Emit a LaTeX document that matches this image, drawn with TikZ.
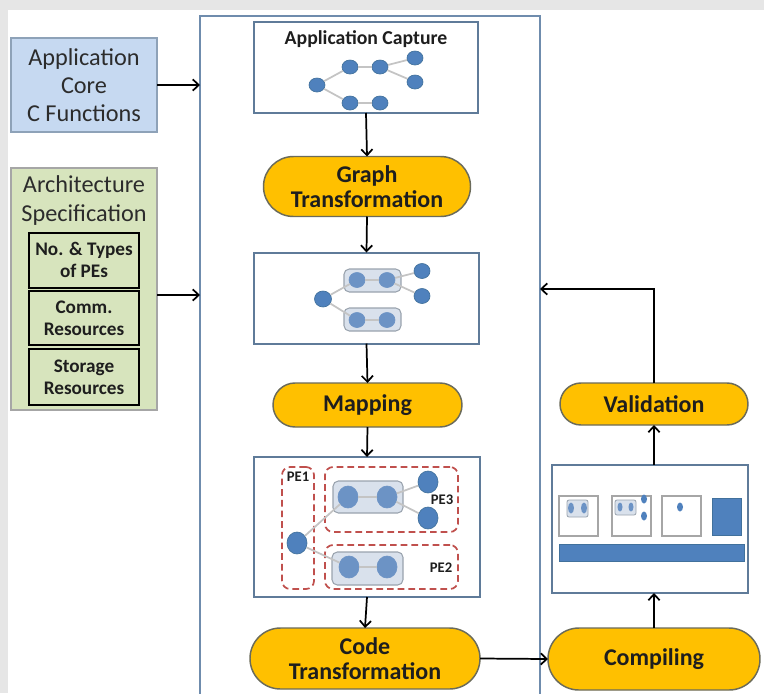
\documentclass[tikz,border=0pt]{standalone}
\usepackage{fontspec}
\setmainfont{Carlito}
\usetikzlibrary{arrows.meta,shapes.misc,shapes.geometric}

\definecolor{bggray}{HTML}{E6E6E6}
\definecolor{contblue}{HTML}{6F8CAD}
\definecolor{boxblue}{HTML}{5F7B99}
\definecolor{corefill}{HTML}{C6D9F1}
\definecolor{coreedge}{HTML}{8EA2B8}
\definecolor{archfill}{HTML}{D7E4BD}
\definecolor{archedge}{HTML}{A6A6A6}
\definecolor{pillfill}{HTML}{FFC000}
\definecolor{pilledge}{HTML}{6B6B5A}
\definecolor{txtdark}{HTML}{1E1E1E}
\definecolor{txtgray}{HTML}{2C2C2C}
\definecolor{nodeblue}{HTML}{4F81BD}
\definecolor{nodeedge}{HTML}{41719C}
\definecolor{nodelite}{HTML}{6C93C5}
\definecolor{grpfill}{HTML}{D9E1EC}
\definecolor{grpedge}{HTML}{9AA3AE}
\definecolor{edgegray}{HTML}{C4C4C4}
\definecolor{pered}{HTML}{C0504D}
\definecolor{icongray}{HTML}{A6A6A6}

\begin{document}
\begin{tikzpicture}[x=0.75pt,y=-0.75pt,
  sz/.style 2 args={minimum width=#1*0.75pt,minimum height=#2*0.75pt},
  plain/.style={rectangle,inner sep=0pt,outer sep=0pt},
  container/.style={plain,draw=contblue,line width=1.9pt},
  stagebox/.style={plain,draw=boxblue,line width=1.5pt},
  corebox/.style={plain,draw=coreedge,fill=corefill,line width=1pt,
    align=center,text=txtgray,font=\fontsize{18.2}{21}\selectfont},
  archbox/.style={plain,draw=archedge,fill=archfill,line width=1pt},
  resbox/.style={plain,draw=black,line width=1.5pt,align=center,text=txtdark,
    font=\bfseries\fontsize{14.4}{16.5}\selectfont},
  pill/.style={rounded rectangle,inner sep=0pt,outer sep=0pt,draw=pilledge,
    line width=1.1pt,fill=pillfill,align=center,text=txtdark,
    font=\bfseries\fontsize{18}{18.75}\selectfont},
  gnode/.style={ellipse,inner sep=0pt,fill=nodeblue,draw=nodeedge,line width=0.5pt},
  gnodelite/.style={gnode,fill=nodelite,draw=nodelite},
  grp/.style={plain,rounded corners=4pt,fill=grpfill,draw=grpedge,line width=0.8pt},
  gedge/.style={draw=edgegray,line width=1.3pt},
  pe/.style={plain,rounded corners=6pt,draw=pered,line width=1.3pt,
    dash pattern=on 5pt off 3pt},
  pelabel/.style={inner sep=0pt,text=txtdark,font=\bfseries\fontsize{11}{12}\selectfont},
  arr/.style={draw=black,line width=1.3pt,-{Straight Barb[length=4.5pt,width=8.5pt]}}
]
\useasboundingbox (0,0) rectangle (764,693);
\fill[bggray] (0,0) rectangle (764,693);
\fill[white] (8,10) rectangle (764,693);

% main flow container (runs past the lower edge)
\node[container,sz={340}{700}] (cont) at (370,366) {};

% inputs on the left
\node[corebox,sz={146}{94}] (core) at (84,85) {Application\\Core\\C Functions};
\node[archbox,sz={146}{242}] (arch) at (84,289) {};
\node[inner sep=0pt,align=center,text=txtgray,font=\fontsize{18.2}{21.75}\selectfont]
  (archtitle) at (84,201) {Architecture\\Specification};
\node[resbox,sz={110}{55}] (pes) at (84,260) {No. \& Types\\of PEs};
\node[resbox,sz={110}{54}] (comm) at (84,318) {Comm.\\Resources};
\node[resbox,sz={110}{56}] (stor) at (84,377) {Storage\\Resources};

\draw[arr] (core.east) -- (core.east -| cont.west);
\coordinate (archin) at (cont.west |- 0,295);
\draw[arr] (arch.east |- archin) -- (archin);

% stage 1: application capture
\node[stagebox,sz={224}{91}] (cap) at (366,67.5) {};
\node[inner sep=0pt,text=txtdark,font=\bfseries\fontsize{14.8}{16}\selectfont]
  (captitle) at (366,39) {Application Capture};
\node[gnode,sz={16}{14}] (a1) at (317,85) {};
\node[gnode,sz={16}{14}] (a2) at (350,67) {};
\node[gnode,sz={16}{14}] (a3) at (380,67) {};
\node[gnode,sz={16}{14}] (a4) at (415,58) {};
\node[gnode,sz={16}{14}] (a5) at (415,82) {};
\node[gnode,sz={16}{14}] (a6) at (350,103) {};
\node[gnode,sz={16}{14}] (a7) at (380,103) {};
\draw[gedge] (a1) -- (a2);
\draw[gedge] (a2) -- (a3);
\draw[gedge] (a3) -- (a4);
\draw[gedge] (a3) -- (a5);
\draw[gedge] (a1) -- (a6);
\draw[gedge] (a6) -- (a7);

\node[pill,sz={207}{60}] (gt) at (367,186.5) {Graph\\Transformation};

% stage 2: clustered graph
\node[stagebox,sz={225}{91}] (clus) at (366.5,298) {};
\node[grp,sz={57}{23}] (g1) at (372.5,280.5) {};
\node[grp,sz={57}{23}] (g2) at (372.5,319.5) {};
\node[gnode,sz={17}{16}] (b1) at (323,299) {};
\node[gnodelite,sz={16}{15}] (b2) at (357,280) {};
\node[gnodelite,sz={16}{15}] (b3) at (387,280) {};
\node[gnode,sz={16}{15}] (b4) at (422,271) {};
\node[gnode,sz={16}{15}] (b5) at (422,296) {};
\node[gnodelite,sz={16}{15}] (b6) at (357,320) {};
\node[gnodelite,sz={16}{15}] (b7) at (387,320) {};
\draw[gedge] (b1) -- (b2);
\draw[gedge] (b2) -- (b3);
\draw[gedge] (b3) -- (b4);
\draw[gedge] (b3) -- (b5);
\draw[gedge] (b1) -- (b6);
\draw[gedge] (b6) -- (b7);

\node[pill,sz={189}{44}] (map) at (367.5,405) {Mapping};

% stage 3: mapped graph
\node[stagebox,sz={226}{140}] (mapped) at (367,527) {};
\node[pe,sz={32}{122}] (pe1) at (298,528) {};
\node[pe,sz={133}{65}] (pe3) at (391.5,499.5) {};
\node[pe,sz={133}{44}] (pe2) at (391.5,567) {};
\node[pelabel] (pe1t) at (298,477) {PE1};
\node[pelabel] (pe3t) at (442,500) {PE3};
\node[pelabel] (pe2t) at (441,568) {PE2};
\node[grp,sz={70}{32}] (g3) at (368,497) {};
\node[grp,sz={71}{33}] (g4) at (367.5,568.5) {};
\node[gnode,sz={20}{22}] (c1) at (297,543) {};
\node[gnodelite,sz={20}{22}] (c2) at (348,497) {};
\node[gnodelite,sz={20}{22}] (c3) at (387,497) {};
\node[gnode,sz={20}{22}] (c4) at (428,482) {};
\node[gnode,sz={20}{22}] (c5) at (428,518) {};
\node[gnodelite,sz={20}{22}] (c6) at (349,567) {};
\node[gnodelite,sz={20}{22}] (c7) at (387,567) {};
\draw[gedge] (c1) -- (c2);
\draw[gedge] (c2) -- (c3);
\draw[gedge] (c3) -- (c4);
\draw[gedge] (c3) -- (c5);
\draw[gedge] (c1) -- (c6);
\draw[gedge] (c6) -- (c7);

\node[pill,sz={230}{61}] (ct) at (365,658.5) {Code\\Transformation};

% right column: compiling and validation
\node[pill,sz={212}{62}] (cmp) at (654,659) {Compiling};
\node[stagebox,sz={196}{128}] (bin) at (650,529) {};
\node[pill,sz={188}{42}] (val) at (654,404) {Validation};

% processor icons inside the compiled result
\draw[icongray,line width=1.2pt] (559,496) rectangle (598,536);
\filldraw[fill=grpfill,draw=grpedge,line width=0.6pt,rounded corners=1.5pt] (567,500) rectangle (588,517);
\fill[nodelite] (571,508) ellipse (3*0.75pt and 5.5*0.75pt);
\fill[nodelite] (584,508) ellipse (3*0.75pt and 5.5*0.75pt);
\draw[icongray,line width=1.2pt] (612,496) rectangle (651,536);
\filldraw[fill=grpfill,draw=grpedge,line width=0.6pt,rounded corners=1.5pt] (615,500) rectangle (636,515);
\fill[nodelite] (620,507) ellipse (2.5*0.75pt and 4.5*0.75pt);
\fill[nodelite] (631,507) ellipse (2.5*0.75pt and 4.5*0.75pt);
\fill[nodeblue] (644,499) ellipse (3*0.75pt and 4.5*0.75pt);
\fill[nodeblue] (644,516) ellipse (3*0.75pt and 4.5*0.75pt);
\draw[icongray,line width=1.2pt] (662,496) rectangle (701,536);
\fill[nodeblue] (680,507) ellipse (3*0.75pt and 4.5*0.75pt);
\filldraw[fill=nodeblue,draw=nodeedge,line width=0.5pt] (712,498) rectangle (741,535);
\filldraw[fill=nodeblue,draw=nodeedge,line width=0.5pt] (559,544) rectangle (744,561);

% flow arrows
\draw[arr] (cap.south) -- (gt.north);
\draw[arr] (gt.south) -- (clus.north);
\draw[arr] (clus.south) -- (map.north);
\draw[arr] (map.south) -- (mapped.north);
\draw[arr] (mapped.south) -- (ct.north);
\draw[arr] (ct.east) -- (cmp.west);
\draw[arr] (cmp.north) -- (cmp.north |- bin.south);
\draw[arr] (bin.north -| val.south) -- (val.south);
\coordinate (fbin) at (cont.east |- 0,289);
\draw[arr] (val.north) |- (fbin);
\end{tikzpicture}
\end{document}
